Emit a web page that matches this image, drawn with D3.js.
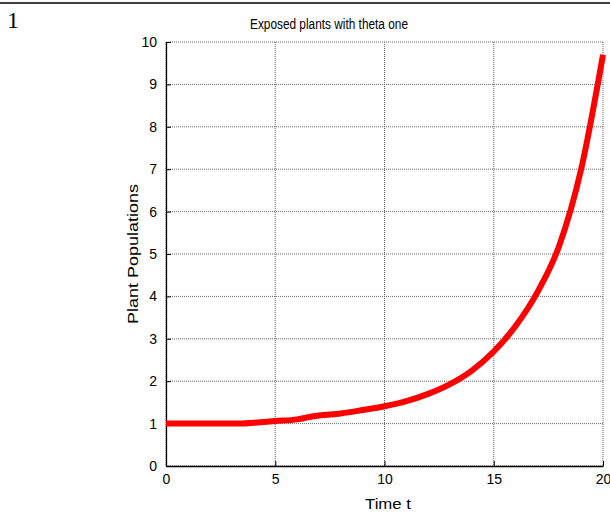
<!DOCTYPE html>
<html><head><meta charset="utf-8">
<script src="https://cdn.jsdelivr.net/npm/d3@7/dist/d3.min.js"></script>
<style>body{margin:0;background:#fff}svg{display:block}</style>
</head><body>
<script>
const times  = [0, 1, 2, 3, 3.5, 4, 5, 6, 6.5, 7, 8, 9, 10, 11, 12, 13, 14, 15, 16, 17, 18, 19, 20];
const values = [1, 1, 1, 1, 1.0, 1.02, 1.06, 1.1, 1.15, 1.19, 1.24, 1.32, 1.41, 1.53, 1.7, 1.93, 2.25, 2.7, 3.3, 4.1, 5.2, 7.0, 9.7];
const xTicks = [0, 5, 10, 15, 20];
const yTicks = [0, 1, 2, 3, 4, 5, 6, 7, 8, 9, 10];
const titleText = "Exposed plants with theta one";
const xLabel = "Time t";
const yLabel = "Plant Populations";

const W = 610, H = 512;
const svg = d3.select("body").append("svg").attr("width", W).attr("height", H);
const m = {l: 166, r: 603, t: 42, b: 466};
const x = d3.scaleLinear().domain([0, 20]).range([m.l, m.r]);
const y = d3.scaleLinear().domain([0, 10]).range([m.b, m.t]);
const font = "Arial, 'Liberation Sans', sans-serif";

// top rule and page number
svg.append("line").attr("x1", 0).attr("x2", W).attr("y1", 3).attr("y2", 3)
  .attr("stroke", "#000").attr("stroke-width", 1.5);
svg.append("text").attr("x", 7).attr("y", 28).text("1")
  .attr("font-family", "'Liberation Serif', 'Times New Roman', serif").attr("font-size", 24);

// grid
const g = svg.append("g");
g.selectAll(".gx").data(xTicks).join("line")
  .attr("x1", d => x(d)).attr("x2", d => x(d)).attr("y1", m.t).attr("y2", m.b)
  .attr("stroke", "#666").attr("stroke-width", 1).attr("stroke-dasharray", "1,1");
g.selectAll(".gy").data(yTicks).join("line")
  .attr("y1", d => y(d)).attr("y2", d => y(d)).attr("x1", m.l).attr("x2", m.r)
  .attr("stroke", "#666").attr("stroke-width", 1).attr("stroke-dasharray", "1,1");

// axes
const xa = svg.append("g").attr("transform", `translate(0,${m.b})`)
  .call(d3.axisBottom(x).tickValues(xTicks).tickSizeInner(-5).tickSizeOuter(0).tickPadding(11));
const ya = svg.append("g").attr("transform", `translate(${m.l},0)`)
  .call(d3.axisLeft(y).tickValues(yTicks).tickSizeInner(-5).tickSizeOuter(0).tickPadding(9));
[xa, ya].forEach(a => {
  a.select(".domain").attr("stroke", "#000").attr("stroke-width", 1.3);
  a.selectAll(".tick line").attr("stroke", "#000");
  a.selectAll("text").attr("font-family", font).attr("font-size", 14).attr("fill", "#000");
});
xa.selectAll("text").attr("dy", "0.5em");

// line
const line = d3.line().x((d, i) => x(times[i])).y(d => y(d)).curve(d3.curveMonotoneX);
svg.append("path").datum(values).attr("d", line)
  .attr("fill", "none").attr("stroke", "#ff0000").attr("stroke-width", 6)
  .attr("stroke-linejoin", "round");

// labels
svg.append("text").attr("x", 250).attr("y", 29)
  .attr("font-family", font).attr("font-size", 15.5).attr("textLength", 158)
  .attr("lengthAdjust", "spacingAndGlyphs").text(titleText);
svg.append("text").attr("x", 365).attr("y", 509)
  .attr("font-family", font).attr("font-size", 15).attr("textLength", 46)
  .attr("lengthAdjust", "spacingAndGlyphs").text(xLabel);
svg.append("text").attr("transform", `translate(138,${(m.t + m.b) / 2}) rotate(-90)`)
  .attr("text-anchor", "middle").attr("font-family", font).attr("font-size", 15)
  .attr("textLength", 140).attr("lengthAdjust", "spacingAndGlyphs").text(yLabel);
</script>
</body></html>
